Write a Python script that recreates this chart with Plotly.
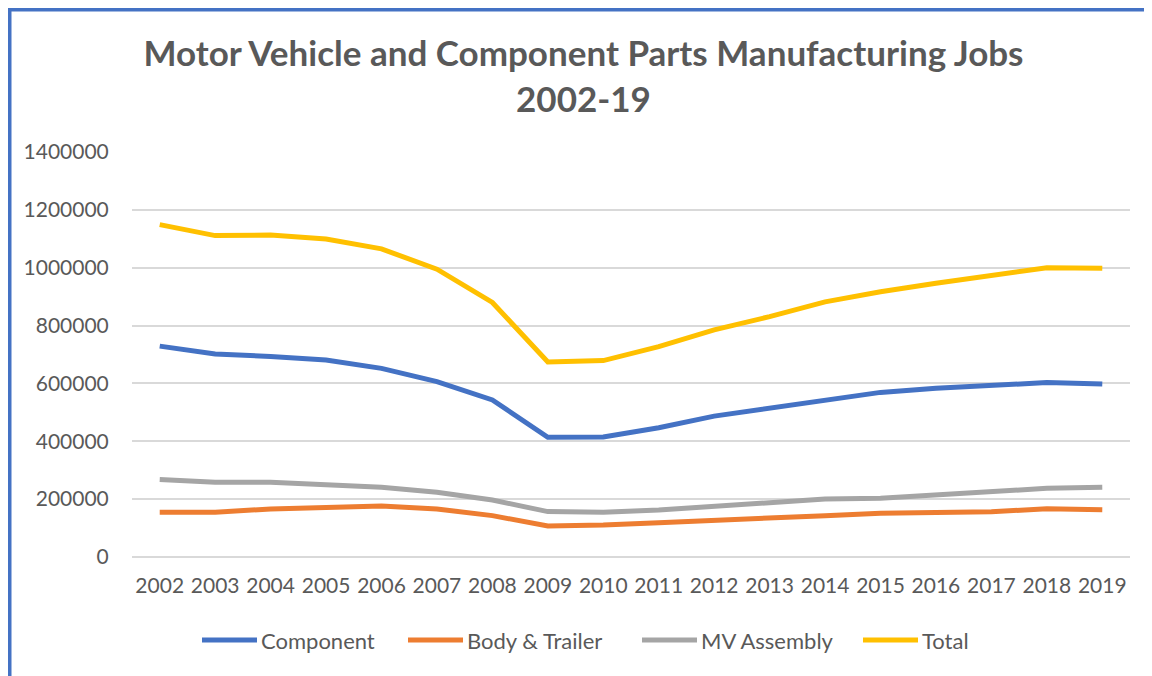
import plotly.graph_objects as go

years = list(range(2002, 2020))
component = [729000, 702000, 693000, 681000, 652000, 606000, 543000, 414000, 415000,
             447000, 487000, 514000, 543000, 569000, 583000, 591000, 603000, 598000]
body_trailer = [154500, 154500, 166000, 172000, 176000, 166000, 143000, 107000, 110500,
                118500, 128000, 136000, 143000, 151000, 153000, 156500, 167000, 163500]
mv_assembly = [268000, 258000, 258000, 249000, 241000, 224000, 197000, 157000, 154500,
               162500, 174000, 185500, 200500, 203000, 214000, 228000, 237500, 241000]
total = [1149000, 1111000, 1113000, 1099000, 1065000, 995000, 880000, 674000, 679000,
         727000, 785000, 831000, 882000, 917000, 946000, 971000, 1000000, 998000]

series = [("Component", component, "#4472C4"),
          ("Body & Trailer", body_trailer, "#ED7D31"),
          ("MV Assembly", mv_assembly, "#A5A5A5"),
          ("Total", total, "#FFC000")]

FONT = "Lato"
TXT = "#595959"

fig = go.Figure()
for name, vals, col in series:
    fig.add_trace(go.Scatter(x=years, y=vals, name=name, mode="lines",
                             line=dict(color=col, width=5), showlegend=False))

# page offset of the figure (body margin)
OFF = 8
W, H = 1144, 668
# plot area in page px: x 132..1130, y 152..557
L, R, T, B = 132 - OFF, 1130 - OFF, 152 - OFF, 557 - OFF

def px(x):
    return (x - OFF - L) / (R - L)

def py(y):
    return (B - (y - OFF)) / (B - T)

shapes = []
annotations = []
# custom legend (page px positions)
legend_items = [("Component", "#4472C4", 202, 257),
                ("Body & Trailer", "#ED7D31", 408, 463),
                ("MV Assembly", "#A5A5A5", 642, 697),
                ("Total", "#FFC000", 863, 918)]
ly = 640
for name, col, x0, x1 in legend_items:
    shapes.append(dict(type="line", xref="paper", yref="paper",
                       x0=px(x0), x1=px(x1), y0=py(ly), y1=py(ly),
                       line=dict(color=col, width=5)))
    annotations.append(dict(text=name, xref="paper", yref="paper",
                            x=px(x1 + 2), y=py(ly), xanchor="left", yanchor="middle",
                            showarrow=False, font=dict(family=FONT, size=22, color=TXT)))

# outer blue frame (only top and left edges visible)
shapes.append(dict(type="line", xref="paper", yref="paper",
                   x0=px(8.5), x1=px(8.5), y0=py(8), y1=py(676),
                   line=dict(color="#4472C4", width=6), layer="above"))
shapes.append(dict(type="line", xref="paper", yref="paper",
                   x0=px(5.5), x1=px(1152), y0=py(8.5), y1=py(8.5),
                   line=dict(color="#4472C4", width=6), layer="above"))

fig.update_layout(
    width=W, height=H,
    margin=dict(l=L, r=W - R, t=T, b=H - B, pad=0),
    paper_bgcolor="white", plot_bgcolor="white",
    title=dict(text="Motor Vehicle and Component Parts Manufacturing Jobs<br>2002-19",
               x=(583.5 - OFF) / W, xanchor="center", y=1 - (66 - OFF) / H, yanchor="middle",
               font=dict(family=FONT, size=35, color=TXT, weight="bold")),
    font=dict(family=FONT, size=21, color=TXT),
    shapes=shapes, annotations=annotations,
    xaxis=dict(range=[2001.5, 2019.5], tickmode="array", tickvals=years,
               ticktext=[str(y) for y in years], showgrid=False, zeroline=False,
               showline=False, ticks="outside", ticklen=10, tickcolor="rgba(0,0,0,0)",
               tickfont=dict(family=FONT, size=21, color=TXT), fixedrange=True),
    yaxis=dict(range=[0, 1400000], dtick=200000, tickformat="d",
               showgrid=True, gridcolor="#D9D9D9", gridwidth=1.5,
               zeroline=True, zerolinecolor="#D9D9D9", zerolinewidth=1.5,
               showline=False, ticks="outside", ticklen=18, tickcolor="rgba(0,0,0,0)",
               tickfont=dict(family=FONT, size=21, color=TXT), fixedrange=True),
)

fig.write_html("out.html", config={"displayModeBar": False})
